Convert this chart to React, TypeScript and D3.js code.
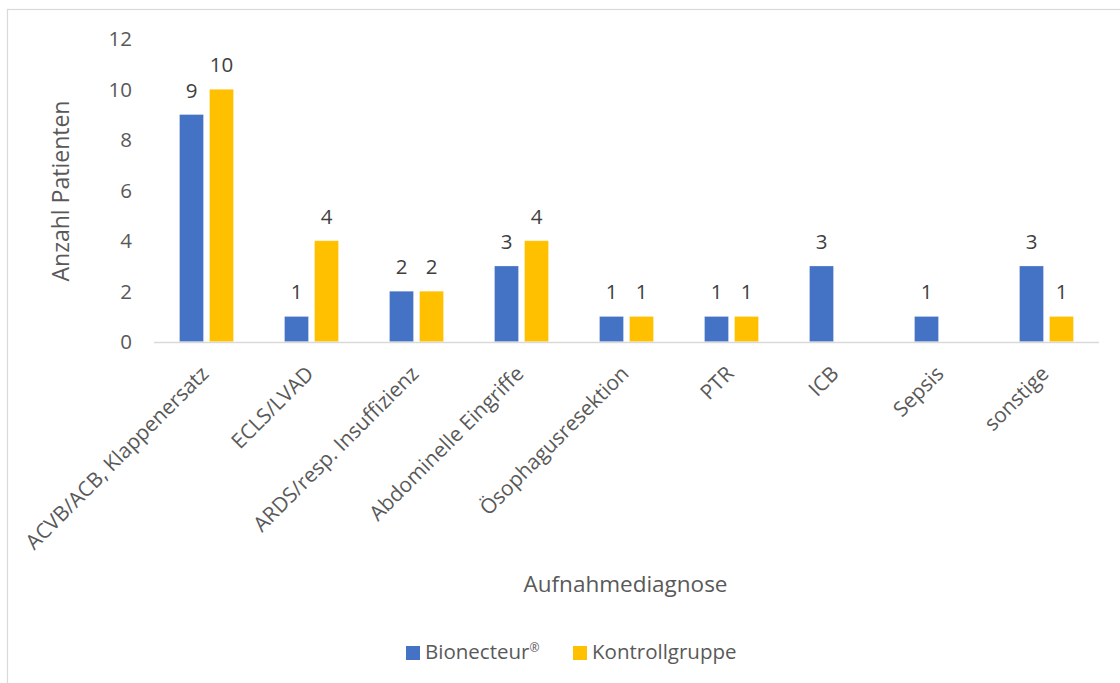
import React from "react";
import * as d3 from "d3";

const categories = [
  "ACVB/ACB, Klappenersatz",
  "ECLS/LVAD",
  "ARDS/resp. Insuffizienz",
  "Abdominelle Eingriffe",
  "Ösophagusresektion",
  "PTR",
  "ICB",
  "Sepsis",
  "sonstige",
];
const seriesNames = ["Bionecteur", "Kontrollgruppe"];
const seriesMarks = ["®", ""];
const bionecteur: (number | null)[] = [9, 1, 2, 3, 1, 1, 3, 1, 3];
const kontrollgruppe: (number | null)[] = [10, 4, 2, 4, 1, 1, null, null, 1];
const seriesValues = [bionecteur, kontrollgruppe];
const seriesColors = ["#4472C4", "#FFC000"];
const yTicks = [0, 2, 4, 6, 8, 10, 12];

const FONT = "'Open Sans', 'Noto Sans', sans-serif";

export default function App() {
  const W = 1120;
  const H = 683;
  const x = d3.scaleBand<string>().domain(categories).range([154, 1099]).paddingInner(0).paddingOuter(0);
  const xs = d3.scaleBand<string>().domain(seriesNames).range([-27, 27]).paddingInner(0.2).paddingOuter(0);
  const y = d3.scaleLinear().domain([0, 12]).range([341.7, 38.8]);

  return (
    <svg
      width={W}
      height={H}
      style={{ position: "absolute", left: 0, top: 0, background: "#fff" }}
      fontFamily={FONT}
    >
      <rect x={7.5} y={9.5} width={1140} height={700} fill="#fff" stroke="#d9d9d9" strokeWidth={1.2} />

      {/* y tick labels */}
      {yTicks.map((t) => (
        <text key={t} x={132} y={y(t)} dy="0.36em" textAnchor="end" fontSize={20.5} fill="#595959">
          {t}
        </text>
      ))}

      {/* bars */}
      {seriesValues.map((vals, si) =>
        vals.map((v, ci) => {
          if (v === null) return null;
          const cx = (x(categories[ci]) as number) + x.bandwidth() / 2;
          const bx = cx + (xs(seriesNames[si]) as number);
          return (
            <g key={`${si}-${ci}`}>
              <rect
                x={bx}
                y={y(v)}
                width={xs.bandwidth()}
                height={y(0) - y(v)}
                fill={seriesColors[si]}
                stroke="#ffffff"
                strokeOpacity={0.35}
                strokeWidth={0.8}
              />
              <text
                x={bx + xs.bandwidth() / 2}
                y={y(v) - 17}
                textAnchor="middle"
                fontSize={20.5}
                fill="#404040"
              >
                {v}
              </text>
            </g>
          );
        })
      )}

      {/* x axis line */}
      <line x1={154} x2={1099} y1={342.5} y2={342.5} stroke="#d9d9d9" strokeWidth={1.5} />

      {/* category labels */}
      {categories.map((c) => {
        const cx = (x(c) as number) + x.bandwidth() / 2;
        return (
          <text
            key={c}
            transform={`translate(${cx + 3.5},${375}) rotate(-45)`}
            textAnchor="end"
            fontSize={20.8}
            fill="#595959"
          >
            {c}
          </text>
        );
      })}

      {/* axis titles */}
      <text
        transform={`translate(61,191) rotate(-90)`}
        dy="0.36em"
        textAnchor="middle"
        fontSize={23}
        fill="#595959"
      >
        Anzahl Patienten
      </text>
      <text x={625.5} y={591.5} textAnchor="middle" fontSize={22.5} fill="#595959">
        Aufnahmediagnose
      </text>

      {/* legend */}
      {seriesNames.map((s, i) => {
        const lx = [406, 573][i];
        return (
          <g key={s}>
            <rect x={lx} y={646} width={14} height={14} fill={seriesColors[i]} />
            <text x={lx + 19} y={659.3} fontSize={20.5} fill="#595959">
              {s}
              {seriesMarks[i] ? (
                <tspan fontSize={12} dy={-7}>
                  {seriesMarks[i]}
                </tspan>
              ) : null}
            </text>
          </g>
        );
      })}
    </svg>
  );
}
